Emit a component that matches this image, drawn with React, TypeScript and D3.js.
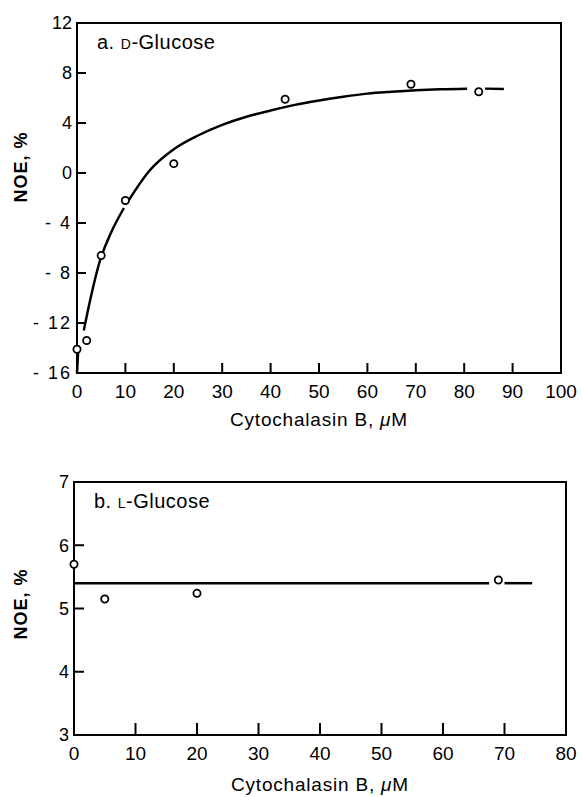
import React from "react";
import * as d3 from "d3";

// ---- Panel a: D-Glucose ----
const aPointsX = [0, 2, 5, 10, 20, 43, 69, 83];
const aPointsY = [-14.1, -13.4, -6.6, -2.2, 0.75, 5.9, 7.1, 6.5];
// fitted curve, drawn in segments (gaps where it meets circles)
const aCurve1X = [0, 0.15, 0.3];
const aCurve1Y = [-16, -14.9, -13.8];
const aCurve2X = [1.4, 2.7, 4.75, 7, 9.7];
const aCurve2Y = [-12.6, -10.2, -7.0, -4.8, -2.8];
const aCurve3X = [10.5, 15, 20, 25, 30, 35, 40, 45, 50, 55, 60, 65, 70, 75, 80.6];
const aCurve3Y = [-2.3, 0.2, 1.9, 3.0, 3.85, 4.5, 5.0, 5.45, 5.8, 6.1, 6.35, 6.5, 6.62, 6.7, 6.75];
const aCurve4X = [84.3, 88.2];
const aCurve4Y = [6.75, 6.72];
const aXTicks = [0, 10, 20, 30, 40, 50, 60, 70, 80, 90, 100];
const aYTicks = [12, 8, 4, 0, -4, -8, -12, -16];

// ---- Panel b: L-Glucose ----
const bPointsX = [0, 5, 20, 69];
const bPointsY = [5.7, 5.15, 5.24, 5.45];
const bLine1X = [0, 67.5];
const bLine1Y = [5.4, 5.4];
const bLine2X = [70, 74.5];
const bLine2Y = [5.4, 5.4];
const bXTicks = [0, 10, 20, 30, 40, 50, 60, 70, 80];
const bYTicks = [7, 6, 5, 4, 3];

const FONT = "'Liberation Sans', Arial, Helvetica, sans-serif";

function zip(xs: number[], ys: number[]): [number, number][] {
  return xs.map((x, i) => [x, ys[i]] as [number, number]);
}

type PanelProps = {
  x0: number; x1: number; y0: number; y1: number;
  xDomain: [number, number]; yDomain: [number, number];
  xTicks: number[]; yTicks: number[];
  points: [number, number][];
  segments: [number, number][][];
  label: string; smallCap: string; rest: string;
  yLabelCenter: number; xTitleY: number;
  xTickLen: number; yTickLen: number;
};

function Panel(p: PanelProps) {
  const x = d3.scaleLinear().domain(p.xDomain).range([p.x0, p.x1]);
  const y = d3.scaleLinear().domain(p.yDomain).range([p.y1, p.y0]);
  const line = d3
    .line<[number, number]>()
    .x((d) => x(d[0]))
    .y((d) => y(d[1]))
    .curve(d3.curveMonotoneX);
  const innerX = p.xTicks.slice(1, -1);
  const innerY = p.yTicks.slice(1, -1);
  return (
    <g>
      <rect x={p.x0} y={p.y0} width={p.x1 - p.x0} height={p.y1 - p.y0} fill="none" stroke="#000" strokeWidth={2} />
      {innerX.map((t) => (
        <line key={"xt" + t} x1={x(t)} x2={x(t)} y1={p.y1} y2={p.y1 - p.xTickLen} stroke="#000" strokeWidth={2} />
      ))}
      {innerY.map((t) => (
        <line key={"yt" + t} x1={p.x0} x2={p.x0 + p.yTickLen} y1={y(t)} y2={y(t)} stroke="#000" strokeWidth={2} />
      ))}
      {p.xTicks.map((t) => (
        <text key={"xl" + t} x={x(t)} y={p.y1 + 25} textAnchor="middle" fontFamily={FONT} fontSize={19} fill="#000">
          {t}
        </text>
      ))}
      {p.yTicks.map((t) => (
        <text key={"yl" + t} x={p.x0 - 5} y={y(t)} dy="0.36em" textAnchor="end" fontFamily={FONT} fontSize={18} fill="#000" letterSpacing={t < 0 ? 2 : 0}>
          {t < 0 ? "- " + Math.abs(t) : String(t)}
        </text>
      ))}
      {p.segments.map((s, i) => (
        <path key={"s" + i} d={line(s) || ""} fill="none" stroke="#000" strokeWidth={2.5} strokeLinecap="butt" />
      ))}
      {p.points.map((d, i) => (
        <circle key={"c" + i} cx={x(d[0])} cy={y(d[1])} r={3.6} fill="#fff" stroke="#000" strokeWidth={1.8} />
      ))}
      <text x={p.x0 + 20} y={p.y0 + 26} fontFamily={FONT} fontSize={20} letterSpacing={0.5} fill="#000">
        {p.label} <tspan fontSize={14}>{p.smallCap}</tspan>
        {p.rest}
      </text>
      <text
        transform={`translate(27,${p.yLabelCenter}) rotate(-90)`}
        textAnchor="middle"
        fontFamily={FONT}
        fontSize={18}
        fontWeight="bold"
        letterSpacing={1}
        fill="#000"
      >
        NOE, %
      </text>
      <text x={(p.x0 + p.x1) / 2} y={p.xTitleY} textAnchor="middle" fontFamily={FONT} fontSize={19} letterSpacing={0.8} fill="#000">
        Cytochalasin B, <tspan fontStyle="italic">μ</tspan>M
      </text>
    </g>
  );
}

export default function App() {
  return (
    <svg width={582} height={797} style={{ position: "absolute", left: 0, top: 0, background: "#fff" }}>
      <rect width={582} height={797} fill="#fff" />
      <Panel
        x0={77} x1={561} y0={23} y1={373}
        xDomain={[0, 100]} yDomain={[-16, 12]}
        xTicks={aXTicks} yTicks={aYTicks}
        points={zip(aPointsX, aPointsY)}
        segments={[zip(aCurve1X, aCurve1Y), zip(aCurve2X, aCurve2Y), zip(aCurve3X, aCurve3Y), zip(aCurve4X, aCurve4Y)]}
        label="a." smallCap="D" rest="-Glucose"
        yLabelCenter={167} xTitleY={426}
        xTickLen={10} yTickLen={9}
      />
      <Panel
        x0={74} x1={566} y0={482} y1={735}
        xDomain={[0, 80]} yDomain={[3, 7]}
        xTicks={bXTicks} yTicks={bYTicks}
        points={zip(bPointsX, bPointsY)}
        segments={[zip(bLine1X, bLine1Y), zip(bLine2X, bLine2Y)]}
        label="b." smallCap="L" rest="-Glucose"
        yLabelCenter={604} xTitleY={791}
        xTickLen={12} yTickLen={10}
      />
    </svg>
  );
}
